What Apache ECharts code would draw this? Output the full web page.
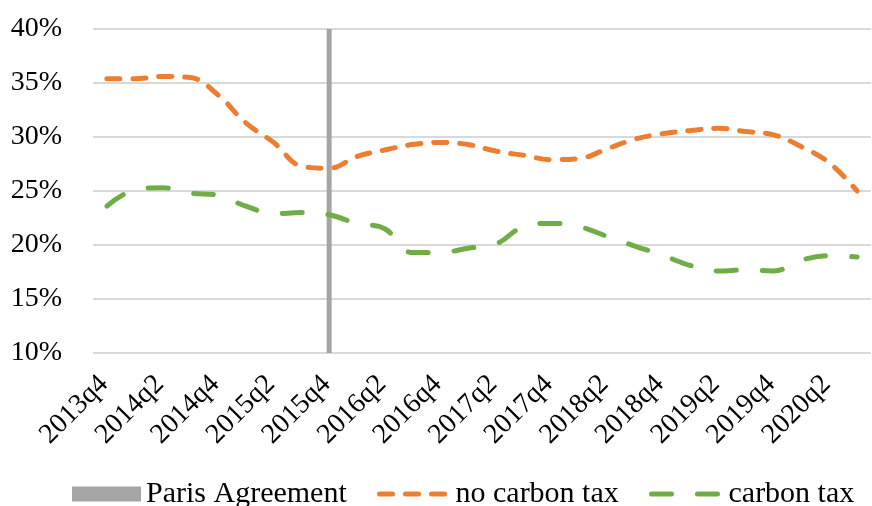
<!DOCTYPE html>
<html>
<head>
<meta charset="utf-8">
<script src="https://cdn.jsdelivr.net/npm/echarts@6/dist/echarts.min.js"></script>
<style>html,body{margin:0;padding:0;background:#fff;}#c{width:872px;height:506px;}</style>
</head>
<body>
<div id="c"></div>
<script>
const categories = ['2013q4','2014q1','2014q2','2014q3','2014q4','2015q1','2015q2','2015q3','2015q4','2016q1','2016q2','2016q3','2016q4','2017q1','2017q2','2017q3','2017q4','2018q1','2018q2','2018q3','2018q4','2019q1','2019q2','2019q3','2019q4','2020q1','2020q2','2020q3'];
const noCarbonTax = [35.4,35.4,35.6,35.5,33.9,31.3,29.5,27.3,27.1,28.2,28.8,29.3,29.5,29.3,28.7,28.3,27.9,28.0,28.9,29.8,30.3,30.6,30.8,30.5,30.2,29.1,27.6,25.0];
const carbonTax = [23.6,25.1,25.3,24.8,24.6,23.6,22.9,23.0,22.8,22.0,21.5,19.3,19.3,19.7,20.1,21.7,22.0,21.7,20.8,19.9,19.05,18.1,17.6,17.7,17.6,18.6,19.0,18.9];
const parisAgreement = [null,null,null,null,null,null,null,null,40,null,null,null,null,null,null,null,null,null,null,null,null,null,null,null,null,null,null,null];
const yTicks = {min: 10, max: 40, interval: 5};

const FONT = '"Liberation Serif", "DejaVu Serif", serif';
const chart = echarts.init(document.getElementById('c'), null, {renderer: 'canvas'});
const legendText = {fontFamily: FONT, fontSize: 30, color: '#000'};
const hideSymbol = {color: 'rgba(0,0,0,0)', borderWidth: 0, opacity: 0};
chart.setOption({
  animation: false,
  grid: {left: 93, right: 1, top: 29, bottom: 153, containLabel: false, outerBoundsMode: 'none'},
  legend: [
    {data: ['Paris Agreement'], left: 67, top: 474, itemWidth: 69, itemHeight: 15, itemGap: 0, textStyle: legendText, icon: 'rect'},
    {data: ['no carbon tax'], left: 372, top: 474, itemWidth: 71, itemHeight: 15, itemGap: 0, textStyle: legendText,
     itemStyle: hideSymbol, lineStyle: {width: 5, type: [13, 13], cap: 'round', color: '#ED7D31'}},
    {data: ['carbon tax'], left: 644, top: 474, itemWidth: 72, itemHeight: 15, itemGap: 0, textStyle: legendText,
     itemStyle: hideSymbol, lineStyle: {width: 5, type: [20, 26], cap: 'round', color: '#70AD47'}}
  ],
  xAxis: {
    type: 'category',
    data: categories,
    boundaryGap: true,
    axisLine: {show: false},
    axisTick: {show: false},
    axisLabel: {interval: 1, rotate: 45, margin: 24, align: 'right', verticalAlign: 'middle',
                padding: [34, 4, 0, 0], fontFamily: FONT, fontSize: 28, color: '#000'}
  },
  yAxis: {
    type: 'value',
    min: yTicks.min, max: yTicks.max, interval: yTicks.interval,
    axisLine: {show: false},
    axisTick: {show: false},
    axisLabel: {formatter: '{value}%', margin: 31, fontFamily: FONT, fontSize: 28, color: '#000'},
    splitLine: {lineStyle: {color: '#D9D9D9', width: 2}}
  },
  series: [
    {name: 'Paris Agreement', type: 'bar', data: parisAgreement, barWidth: 5, itemStyle: {color: '#A5A5A5'}, z: 1},
    {name: 'no carbon tax', type: 'line', data: noCarbonTax, smooth: 0.4, symbol: 'none', showSymbol: false,
     itemStyle: {color: '#ED7D31'},
     lineStyle: {color: '#ED7D31', width: 5, type: [13, 13], cap: 'round'}, z: 3},
    {name: 'carbon tax', type: 'line', data: carbonTax, smooth: 0.4, symbol: 'none', showSymbol: false,
     itemStyle: {color: '#70AD47'},
     lineStyle: {color: '#70AD47', width: 5, type: [20, 26], cap: 'round'}, z: 3}
  ]
});
</script>
</body>
</html>
